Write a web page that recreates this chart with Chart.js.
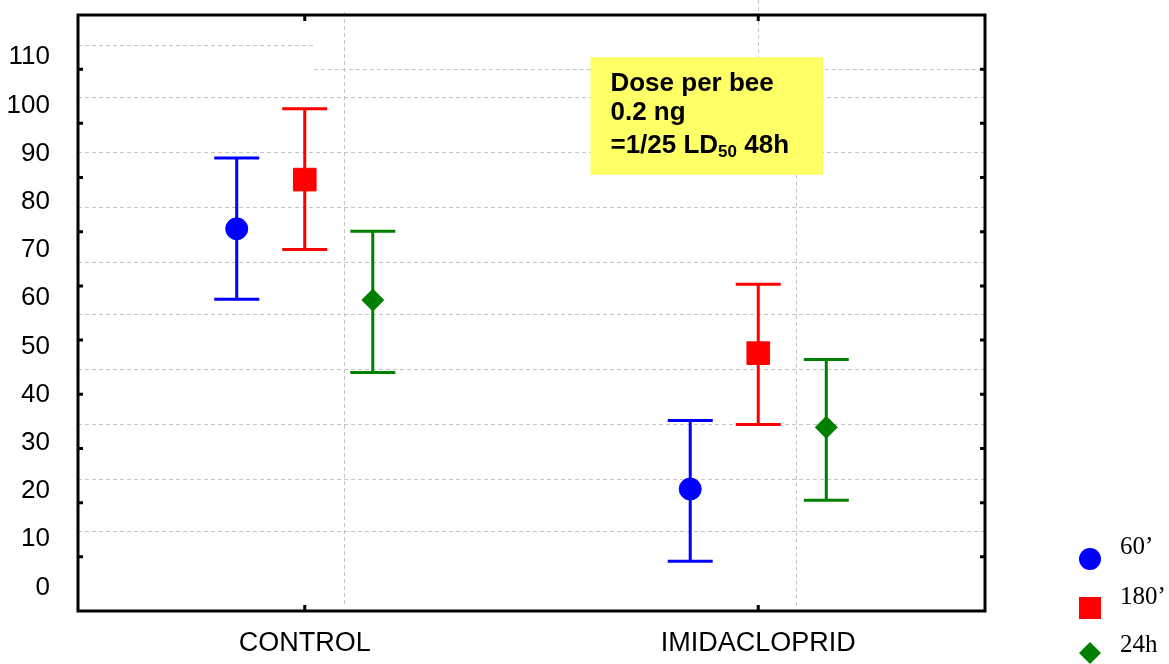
<!DOCTYPE html>
<html>
<head>
<meta charset="utf-8">
<script src="https://cdn.jsdelivr.net/npm/chart.js@4/dist/chart.umd.min.js"></script>
<style>
  html, body { margin: 0; padding: 0; background: #fff; }
</style>
</head>
<body>
<canvas id="chart" width="1169" height="664"></canvas>
<script>
// Dados (média e limites das barras de erro)
const groups = ["CONTROL", "IMIDACLOPRID"];
const seriesNames = ["60’", "180’", "24h"];
const mean60 = [74.4, 20.4];
const low60 = [59.8, 5.4];
const high60 = [89.1, 34.6];
const mean180 = [84.6, 48.6];
const low180 = [70.1, 33.8];
const high180 = [99.3, 62.9];
const mean24 = [59.6, 33.2];
const low24 = [44.6, 18.1];
const high24 = [73.9, 47.3];
const yTickLabels = [0, 10, 20, 30, 40, 50, 60, 70, 80, 90, 100, 110];

// estilo de cada série
const series = [
  { name: seriesNames[0], mean: mean60, low: low60, high: high60, color: '#0000ff', style: 'circle', r: 11, off: -0.15 },
  { name: seriesNames[1], mean: mean180, low: low180, high: high180, color: '#ff0000', style: 'rect', r: 16, off: 0 },
  { name: seriesNames[2], mean: mean24, low: low24, high: high24, color: '#008000', style: 'rectRot', r: 11, off: 0.15 }
];

// marcadores primeiro (ficam por cima)
const markerSets = series.map(s => ({
  label: s.name,
  data: groups.map((g, i) => ({ x: i + s.off, y: s.mean[i] })),
  pointStyle: s.style,
  pointRadius: s.r,
  backgroundColor: s.color,
  borderColor: s.color,
  borderWidth: 1,
  showLine: false
}));

// hastes + traços das barras de erro
const errorSets = series.map(s => ({
  label: s.name + ' err',
  data: groups.flatMap((g, i) => [
    { x: i + s.off, y: s.low[i] },
    { x: i + s.off, y: s.high[i] },
    { x: i + s.off, y: null }
  ]),
  showLine: true,
  spanGaps: false,
  borderColor: s.color,
  borderWidth: 3,
  pointStyle: 'line',
  pointRadius: 22.5,
  pointBorderWidth: 3,
  pointBorderColor: s.color
}));

// grade tracejada, moldura, caixa amarela e legenda
const decorations = {
  id: 'decorations',
  beforeDatasetsDraw(chart) {
    const { ctx, chartArea: a, scales } = chart;
    const x = scales.x, yt = scales.yTicks, y = scales.y;
    const boxTop = y.getPixelForValue(110), boxBottom = y.getPixelForValue(85.6);
    ctx.save();
    ctx.strokeStyle = '#c4c4c4';
    ctx.lineWidth = 1;
    ctx.setLineDash([4, 3]);
    const hLines = [
      [104.5, -0.5, 0.02], [100, 0.02, 1.5],
      [94.87, -0.5, 1.5], [84.72, -0.5, 1.5], [74.57, -0.5, 1.5],
      [64.42, -0.5, 1.5], [54.82, -0.5, 1.5], [44.67, -0.5, 1.5],
      [34.51, -0.5, 1.5], [24.36, -0.5, 1.5], [14.77, -0.5, 1.5]
    ];
    hLines.forEach(([v, x0, x1]) => {
      const py = Math.round(yt.getPixelForValue(v)) + 0.5;
      ctx.beginPath();
      ctx.moveTo(x.getPixelForValue(x0), py);
      ctx.lineTo(x.getPixelForValue(x1), py);
      ctx.stroke();
    });
    const vLines = [
      [0.086, a.top - 3, a.bottom - 4],
      [1.0, 0, boxTop],
      [1.084, boxBottom, a.bottom - 4]
    ];
    vLines.forEach(([v, t, b]) => {
      const px = Math.round(x.getPixelForValue(v)) + 0.5;
      ctx.beginPath();
      ctx.moveTo(px, t);
      ctx.lineTo(px, b);
      ctx.stroke();
    });
    ctx.restore();
  },
  afterDraw(chart) {
    const { ctx, chartArea: a, scales } = chart;
    const x = scales.x, yt = scales.yTicks, y = scales.y;
    ctx.save();

    // caixa amarela
    const bx0 = x.getPixelForValue(0.63), bx1 = x.getPixelForValue(1.143);
    const by0 = y.getPixelForValue(110), by1 = y.getPixelForValue(85.6);
    ctx.fillStyle = '#ffff66';
    ctx.fillRect(bx0, by0, bx1 - bx0, by1 - by0);
    ctx.fillStyle = '#000';
    ctx.textBaseline = 'alphabetic';
    ctx.textAlign = 'left';
    const tx = bx0 + 20;
    const bold = 'bold 26px "Liberation Sans", Arial, sans-serif';
    ctx.font = bold;
    ctx.fillText('Dose per bee', tx, by0 + 34);
    ctx.fillText('0.2 ng', tx, by0 + 63);
    let part = '=1/25 LD';
    ctx.fillText(part, tx, by0 + 96);
    let cx = tx + ctx.measureText(part).width;
    ctx.font = 'bold 17px "Liberation Sans", Arial, sans-serif';
    ctx.fillText('50', cx, by0 + 100);
    cx += ctx.measureText('50').width;
    ctx.font = bold;
    ctx.fillText(' 48h', cx, by0 + 96);

    // moldura
    ctx.strokeStyle = '#000';
    ctx.lineWidth = 3;
    ctx.strokeRect(a.left, a.top, a.right - a.left, a.bottom - a.top);

    // marcas internas dos eixos
    for (let v = 10; v <= 100; v += 10) {
      const py = yt.getPixelForValue(v);
      ctx.beginPath();
      ctx.moveTo(a.left, py); ctx.lineTo(a.left + 5, py);
      ctx.moveTo(a.right, py); ctx.lineTo(a.right - 5, py);
      ctx.stroke();
    }
    groups.forEach((g, i) => {
      const px = x.getPixelForValue(i);
      ctx.beginPath();
      ctx.moveTo(px, a.bottom); ctx.lineTo(px, a.bottom - 6);
      ctx.moveTo(px, a.top); ctx.lineTo(px, a.top + 6);
      ctx.stroke();
    });

    // legenda à direita
    const lx = a.right + 105;
    const markerY = [a.bottom - 52, a.bottom - 3, a.bottom + 42];
    const textY = [a.bottom - 64, a.bottom - 14, a.bottom + 34];
    ctx.font = '25px "Liberation Serif", "Times New Roman", serif';
    ctx.textBaseline = 'middle';
    series.forEach((s, i) => {
      ctx.fillStyle = s.color;
      ctx.beginPath();
      const my = markerY[i];
      if (s.style === 'circle') {
        ctx.arc(lx, my, 11, 0, Math.PI * 2);
      } else if (s.style === 'rect') {
        ctx.rect(lx - 11, my - 11, 22, 22);
      } else {
        ctx.moveTo(lx - 11, my); ctx.lineTo(lx, my - 11);
        ctx.lineTo(lx + 11, my); ctx.lineTo(lx, my + 11);
        ctx.closePath();
      }
      ctx.fill();
      ctx.fillStyle = '#000';
      ctx.fillText(s.name, lx + 30, textY[i]);
    });
    ctx.restore();
  }
};

const ctx = document.getElementById('chart').getContext('2d');
const myChart = new Chart(ctx, {
  type: 'scatter',
  data: { datasets: [...markerSets, ...errorSets] },
  options: {
    responsive: false,
    animation: false,
    events: [],
    layout: { autoPadding: false, padding: { left: 0, top: 15, right: 184, bottom: 0 } },
    plugins: { legend: { display: false }, tooltip: { enabled: false } },
    scales: {
      x: {
        type: 'linear',
        position: 'bottom',
        min: -0.5,
        max: 1.5,
        afterBuildTicks: scale => { scale.ticks = groups.map((g, i) => ({ value: i })); },
        afterFit: scale => { scale.height = 53; scale.paddingLeft = 0; scale.paddingRight = 0; },
        grid: { display: false, drawTicks: false },
        border: { display: false },
        ticks: {
          padding: 16,
          color: '#000',
          font: { family: '"Liberation Sans", Arial, sans-serif', size: 27 },
          callback: v => groups[v]
        }
      },
      y: {
        type: 'linear',
        position: 'left',
        min: -4.9,
        max: 118.75,
        afterBuildTicks: scale => { scale.ticks = yTickLabels.map(v => ({ value: v })); },
        afterFit: scale => { scale.width = 78; scale.paddingTop = 0; scale.paddingBottom = 0; },
        grid: { display: false, drawTicks: false },
        border: { display: false },
        ticks: {
          padding: 28,
          color: '#000',
          font: { family: '"Liberation Sans", Arial, sans-serif', size: 26 },
          callback: v => String(v)
        }
      },
      yTicks: {
        type: 'linear',
        position: 'left',
        display: false,
        min: 0,
        max: 110
      }
    }
  },
  plugins: [decorations]
});
</script>
</body>
</html>
